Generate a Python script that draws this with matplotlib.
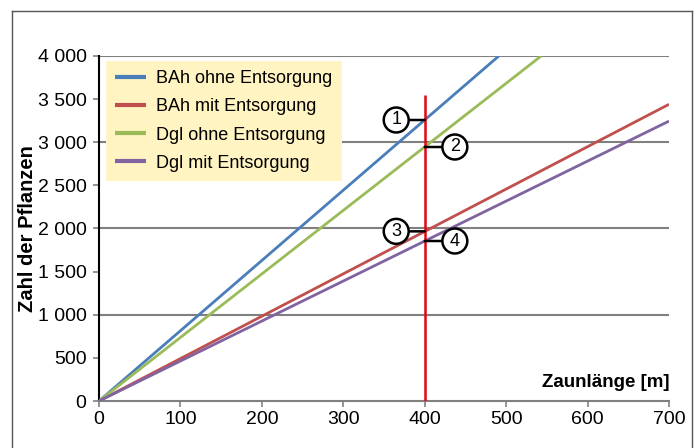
import matplotlib
matplotlib.use("Agg")
import matplotlib.pyplot as plt
from matplotlib.lines import Line2D

plt.rcParams['font.family'] = ['Liberation Sans', 'DejaVu Sans']

# Data
series_names = ["BAh ohne Entsorgung", "BAh mit Entsorgung", "Dgl ohne Entsorgung", "Dgl mit Entsorgung"]
series_x = [[0, 491], [0, 700], [0, 543], [0, 700]]
series_y = [[0, 4000], [0, 3440], [0, 4000], [0, 3245]]
series_colors = ["#4A7EBB", "#C0504D", "#9BBB59", "#8064A2"]
xticks = [0, 100, 200, 300, 400, 500, 600, 700]
yticks = [0, 500, 1000, 1500, 2000, 2500, 3000, 3500, 4000]
ytick_labels = ["0", "500", "1 000", "1 500", "2 000", "2 500", "3 000", "3 500", "4 000"]
grid_y = [1000, 2000, 3000, 4000]
marker_x = 400
marker_top = 3550
callout_labels = ["1", "2", "3", "4"]
callout_y = [3258, 2945, 1967, 1855]
callout_text_x = [365, 437, 365, 437]

fig = plt.figure(figsize=(6.94, 4.48), dpi=100)
ax = fig.add_axes([99/694, 47/448, 570/694, 345/448])

# figure frame
for xs, ys in [([12/694, 12/694], [0, 1-11/448]), ([12/694, 692/694], [1-11/448, 1-11/448]), ([692/694, 692/694], [0, 1-11/448])]:
    fig.add_artist(Line2D(xs, ys, color="#555555", lw=1.0, transform=fig.transFigure))

ax.hlines(grid_y, 0, 700, color="#808080", lw=1.5, zorder=1)

for x, y, c, n in zip(series_x, series_y, series_colors, series_names):
    ax.plot(x, y, color=c, lw=2.0, label=n, zorder=3, solid_capstyle='butt')

ax.vlines(marker_x, 0, marker_top, color="#E30613", lw=1.8, zorder=4)

for lab, y, tx in zip(callout_labels, callout_y, callout_text_x):
    ax.annotate(lab, xy=(marker_x, y), xytext=(tx, y), ha='center', va='center',
                fontsize=13, zorder=5,
                bbox=dict(boxstyle='circle,pad=0.22', fc='white', ec='black', lw=1.8),
                arrowprops=dict(arrowstyle='-', color='black', lw=1.8, shrinkA=0, shrinkB=0))

ax.set_xlim(0, 700)
ax.set_ylim(0, 4000)
ax.set_xticks(xticks)
ax.set_xticklabels([str(v) for v in xticks])
ax.set_yticks(yticks)
ax.set_yticklabels(ytick_labels)
ax.tick_params(axis='both', labelsize=14, colors='#808080', labelcolor='black', length=4, width=1.2)
ax.tick_params(axis='x', pad=3)
ax.tick_params(axis='y', pad=5)

for s in ['top', 'right']:
    ax.spines[s].set_visible(False)
ax.spines['left'].set_color('black')
ax.spines['left'].set_linewidth(1.5)
ax.spines['bottom'].set_color('#808080')
ax.spines['bottom'].set_linewidth(1.5)

ax.set_ylabel("Zahl der Pflanzen", fontsize=14.5, fontweight='bold')
ax.yaxis.set_label_coords(-0.108, 0.5)
ax.text(1.0, 0.03, "Zaunlänge [m]", transform=ax.transAxes, ha='right', va='bottom',
        fontsize=13.5, fontweight='bold')

leg = ax.legend(loc='upper left', bbox_to_anchor=(0.012, 0.985), fontsize=13, frameon=True,
                fancybox=False, handlelength=1.75, handletextpad=0.55, labelspacing=0.62,
                borderpad=0.5, borderaxespad=0)
leg.get_frame().set_facecolor('#FFF4C2')
leg.get_frame().set_edgecolor('none')
leg.get_frame().set_alpha(1)
for l in leg.get_lines():
    l.set_linewidth(3)

fig.savefig("out.png", dpi=100)
